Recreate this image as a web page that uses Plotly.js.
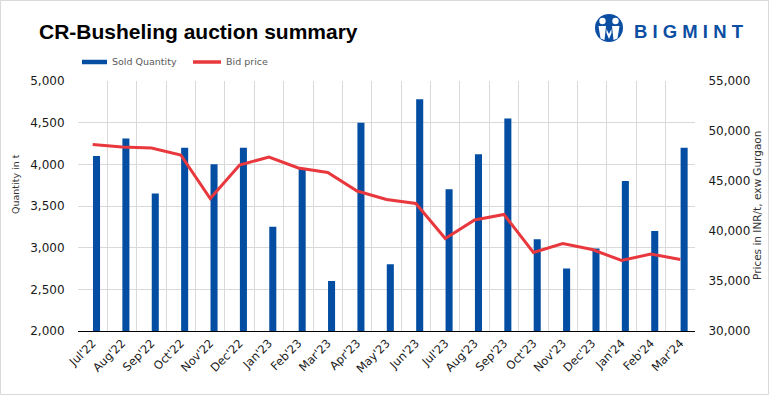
<!DOCTYPE html>
<html>
<head>
<meta charset="utf-8">
<script src="https://cdn.plot.ly/plotly-3.0.1.min.js"></script>
<style>
  html, body { margin: 0; padding: 0; background: #ffffff; }
  #chart { width: 769px; height: 395px; }
</style>
</head>
<body>
<div id="chart"></div>
<script>
// ---- Data ----
const months = ["Jul'22","Aug'22","Sep'22","Oct'22","Nov'22","Dec'22","Jan'23","Feb'23","Mar'23","Apr'23","May'23","Jun'23","Jul'23","Aug'23","Sep'23","Oct'23","Nov'23","Dec'23","Jan'24","Feb'24","Mar'24"];
const soldQuantity = [4100, 4310, 3650, 4200, 4000, 4200, 3250, 3950, 2600, 4500, 2800, 4780, 3700, 4120, 4550, 3100, 2750, 2990, 3800, 3200, 4200];
const bidPrice = [48650, 48400, 48300, 47600, 43250, 46600, 47400, 46300, 45850, 44000, 43150, 42750, 39250, 41100, 41650, 37850, 38750, 38150, 37050, 37700, 37150];
const seriesNames = ["Sold Quantity", "Bid price"];
const chartTitle = "CR-Busheling auction summary";
const leftAxisTitle = "Quantity in t";
const rightAxisTitle = "Prices in INR/t, exw Gurgaon";
const brandName = "B I G M I N T";

// ---- Layout helpers (pixel -> paper) ----
const W = 769, H = 395;
const M = {l: 78, r: 74, t: 81, b: 64};
const PW = W - M.l - M.r, PH = H - M.t - M.b;
const px = x => (x - M.l) / PW;
const py = y => (H - M.b - y) / PH;
const pathFrom = pts => 'M ' + pts.map(p => px(p[0]) + ',' + py(p[1])).join(' L ') + ' Z';

const blue = '#034ea2';
const red = '#e8383d';
const grid = '#d9d9d9';

const traces = [
  {
    type: 'bar', name: seriesNames[0], x: months, y: soldQuantity,
    marker: {color: blue}, width: 0.24, offset: 0.01, yaxis: 'y',
    hoverinfo: 'x+y'
  },
  {
    type: 'scatter', mode: 'lines', name: seriesNames[1], x: months, y: bidPrice,
    line: {color: red, width: 3}, yaxis: 'y2'
  }
];

const tickFont = {family: 'DejaVu Sans', size: 12, color: '#1a1a1a'};

const layout = {
  width: W, height: H,
  margin: M,
  paper_bgcolor: '#ffffff', plot_bgcolor: '#ffffff',
  showlegend: false,
  xaxis: {
    type: 'category', range: [-0.5, 20.5],
    tickson: 'boundaries', showgrid: true, gridcolor: grid, gridwidth: 1,
    ticks: 'outside', ticklen: 4, tickcolor: 'rgba(0,0,0,0)',
    tickangle: -45, tickfont: {family: 'DejaVu Sans', size: 11.5, color: '#1a1a1a'},
    showline: true, linecolor: '#000000', linewidth: 1, zeroline: false
  },
  yaxis: {
    range: [2000, 5000], dtick: 500, tickformat: ',',
    showgrid: true, gridcolor: grid, gridwidth: 1, zeroline: false,
    ticks: 'outside', ticklen: 10, tickcolor: 'rgba(0,0,0,0)',
    tickfont: tickFont, showline: false
  },
  yaxis2: {
    range: [30000, 55000], dtick: 5000, tickformat: ',',
    overlaying: 'y', side: 'right', showgrid: false, zeroline: false,
    ticks: 'outside', ticklen: 10, tickcolor: 'rgba(0,0,0,0)',
    tickfont: tickFont, showline: false
  },
  shapes: [
    // outer border
    {type: 'rect', xref: 'paper', yref: 'paper', x0: px(0.5), x1: px(768.5), y0: py(394.5), y1: py(0.5),
     line: {color: grid, width: 1}, fillcolor: 'rgba(0,0,0,0)', layer: 'below'},
    // legend symbols
    {type: 'line', xref: 'paper', yref: 'paper', x0: px(82), x1: px(107), y0: py(62), y1: py(62),
     line: {color: blue, width: 4.5}},
    {type: 'line', xref: 'paper', yref: 'paper', x0: px(193), x1: px(221), y0: py(62), y1: py(62),
     line: {color: red, width: 3.5}},
    // logo icon
    {type: 'circle', xref: 'paper', yref: 'paper', x0: px(595), x1: px(623), y0: py(42), y1: py(14),
     fillcolor: '#0b4ea2', line: {width: 0}},
    {type: 'circle', xref: 'paper', yref: 'paper', x0: px(599.3), x1: px(605.7), y0: py(24.2), y1: py(17.8),
     fillcolor: '#ffffff', line: {width: 0}},
    {type: 'circle', xref: 'paper', yref: 'paper', x0: px(612.3), x1: px(618.7), y0: py(24.2), y1: py(17.8),
     fillcolor: '#ffffff', line: {width: 0}},
    {type: 'path', xref: 'paper', yref: 'paper',
     path: pathFrom([[598.5,26],[606,26],[604.5,40],[600.5,38.5]]), fillcolor: '#ffffff', line: {width: 0}},
    {type: 'path', xref: 'paper', yref: 'paper',
     path: pathFrom([[612,26],[619.5,26],[617.5,38.5],[613.5,40]]), fillcolor: '#ffffff', line: {width: 0}},
    {type: 'path', xref: 'paper', yref: 'paper',
     path: pathFrom([[606.5,29],[609,34],[611.5,29],[611.5,33],[609,39],[606.5,33]]), fillcolor: '#ffffff', line: {width: 0}}
  ],
  annotations: [
    {text: '<b>' + chartTitle + '</b>', xref: 'paper', yref: 'paper', x: px(37), y: py(31),
     xanchor: 'left', yanchor: 'middle', showarrow: false,
     font: {family: 'Liberation Sans, Arial, sans-serif', size: 21, color: '#000000'}},
    {text: seriesNames[0], xref: 'paper', yref: 'paper', x: px(110), y: py(62),
     xanchor: 'left', yanchor: 'middle', showarrow: false,
     font: {family: 'DejaVu Sans', size: 9.5, color: '#595959'}},
    {text: seriesNames[1], xref: 'paper', yref: 'paper', x: px(224), y: py(62),
     xanchor: 'left', yanchor: 'middle', showarrow: false,
     font: {family: 'DejaVu Sans', size: 9.5, color: '#595959'}},
    {text: leftAxisTitle, xref: 'paper', yref: 'paper', x: px(15), y: py(184),
     xanchor: 'center', yanchor: 'middle', textangle: -90, showarrow: false,
     font: {family: 'DejaVu Sans', size: 9.5, color: '#333333'}},
    {text: rightAxisTitle, xref: 'paper', yref: 'paper', x: px(757), y: py(206),
     xanchor: 'center', yanchor: 'middle', textangle: -90, showarrow: false,
     font: {family: 'DejaVu Sans', size: 10.5, color: '#333333'}},
    {text: '<b>' + brandName + '</b>', xref: 'paper', yref: 'paper', x: px(632), y: py(31.5),
     xanchor: 'left', yanchor: 'middle', showarrow: false,
     font: {family: 'Liberation Sans, Arial, sans-serif', size: 18.5, color: '#0b4ea2'}}
  ]
};

Plotly.newPlot('chart', traces, layout, {displayModeBar: false, staticPlot: true});
</script>
</body>
</html>
